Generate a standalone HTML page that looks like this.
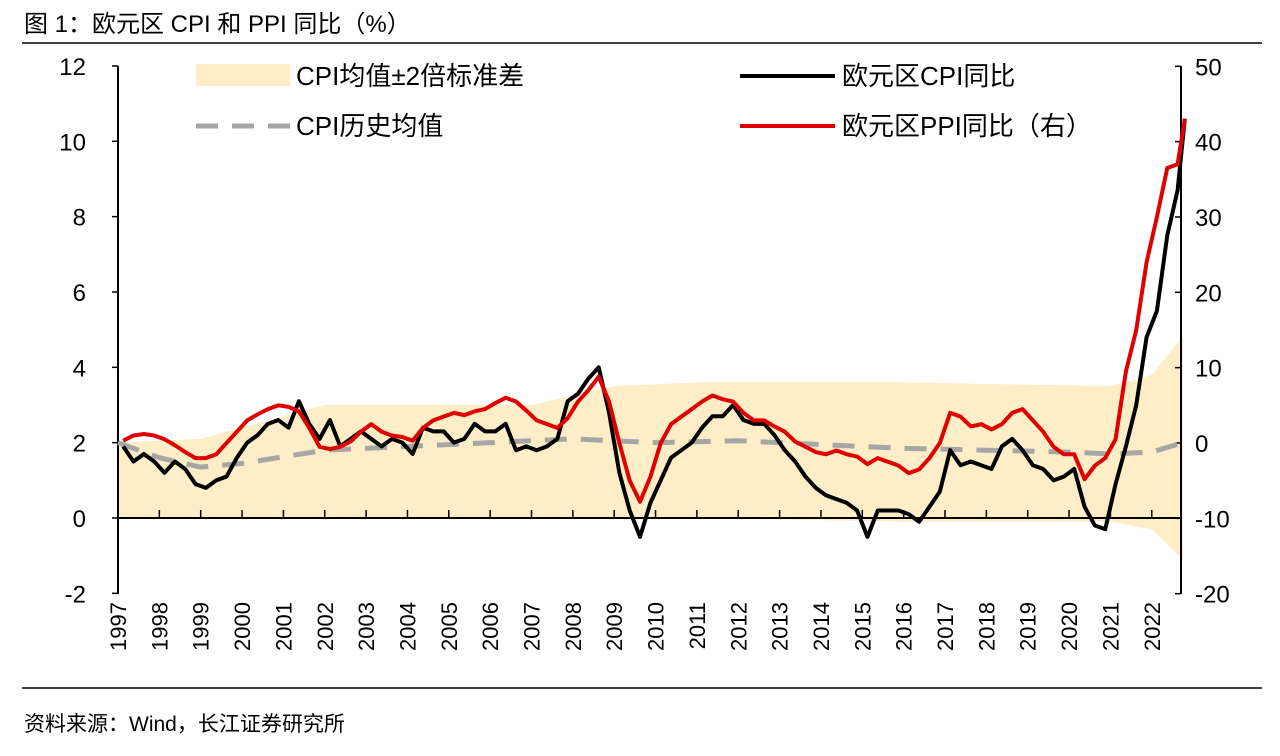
<!DOCTYPE html>
<html><head><meta charset="utf-8"><style>
body{margin:0;background:#fff;}
svg text{font-family:"Liberation Sans","Noto Sans CJK SC",sans-serif;fill:#000;}
</style></head><body>
<svg id="c" width="1280" height="751" viewBox="0 0 1280 751">
<text x="24" y="32" font-size="24">图 1：欧元区 CPI 和 PPI 同比（%）</text>
<line x1="22" y1="43" x2="1262" y2="43" stroke="#000" stroke-width="1.5"/>
<line x1="22" y1="688" x2="1262" y2="688" stroke="#000" stroke-width="1.5"/>
<text x="24" y="731" font-size="21">资料来源：Wind，长江证券研究所</text>
<g id="plot"></g>
<g id="legend">
<rect x="196" y="64" width="94" height="22" fill="#fdeec8"/>
<text x="296" y="85" font-size="26">CPI均值±2倍标准差</text>
<line x1="196" y1="126" x2="290" y2="126" stroke="#a6a6a6" stroke-width="5" stroke-dasharray="22,14"/>
<text x="296" y="135" font-size="26">CPI历史均值</text>
<line x1="740" y1="76" x2="835" y2="76" stroke="#000" stroke-width="4"/>
<text x="842" y="85" font-size="26">欧元区CPI同比</text>
<line x1="740" y1="126" x2="835" y2="126" stroke="#e00000" stroke-width="4"/>
<text x="842" y="135" font-size="26">欧元区PPI同比（右）</text>
</g>
</svg>
<script>
const years=[1997,1998,1999,2000,2001,2002,2003,2004,2005,2006,2007,2008,2009,2010,2011,2012,2013,2014,2015,2016,2017,2018,2019,2020,2021,2022];
const leftTicks=[12,10,8,6,4,2,0,-2];
const rightTicks=[50,40,30,20,10,0,-10,-20];
const cpi=[1.9,1.5,1.7,1.5, 1.2,1.5,1.3,0.9, 0.8,1.0,1.1,1.6, 2.0,2.2,2.5,2.6, 2.4,3.1,2.5,2.1, 2.6,1.9,2.1,2.3, 2.1,1.9,2.1,2.0, 1.7,2.4,2.3,2.3, 2.0,2.1,2.5,2.3, 2.3,2.5,1.8,1.9, 1.8,1.9,2.1,3.1, 3.3,3.7,4.0,2.8, 1.2,0.2,-0.5,0.4, 1.0,1.6,1.8,2.0, 2.4,2.7,2.7,3.0, 2.6,2.5,2.5,2.2, 1.8,1.5,1.1,0.8, 0.6,0.5,0.4,0.2, -0.5,0.2,0.2,0.2, 0.1,-0.1,0.3,0.7, 1.8,1.4,1.5,1.4, 1.3,1.9,2.1,1.8, 1.4,1.3,1.0,1.1, 1.3,0.3,-0.2,-0.3, 0.9,1.9,3.0,4.8, 5.5,7.5,8.7,10.6];
const ppi=[0.3,1.0,1.2,1.0, 0.5,-0.3,-1.2,-2.0, -2.0,-1.5,0.0,1.5, 3.0,3.8,4.5,5.0, 4.8,4.2,2.0,-0.5, -0.8,-0.5,0.2,1.5, 2.5,1.5,1.0,0.8, 0.3,2.0,3.0,3.5, 4.0,3.7,4.2,4.5, 5.3,6.0,5.5,4.3, 3.0,2.5,2.0,3.3, 5.5,7.0,8.8,5.5, 0.0,-5.0,-7.8,-4.5, 0.0,2.5,3.5,4.5, 5.5,6.3,5.8,5.5, 4.0,3.0,3.0,2.2, 1.5,0.2,-0.5,-1.2, -1.5,-1.0,-1.5,-1.8, -2.8,-2.0,-2.5,-3.0, -4.0,-3.5,-2.0,0.0, 4.0,3.5,2.2,2.5, 1.8,2.5,4.0,4.5, 3.0,1.5,-0.5,-1.5, -1.5,-4.8,-3.0,-2.0, 0.5,9.5,15.0,24.0, 30.0,36.5,37.0,43.0];
const meanT=[1997,1998,1999,2000,2002,2004,2006,2008,2009,2010,2012,2014,2016,2018,2020,2021,2022,2022.75];
const meanV=[2.0,1.6,1.35,1.45,1.8,1.9,2.0,2.1,2.05,2.0,2.05,1.95,1.85,1.8,1.75,1.7,1.75,2.0];
const bandT=[1997,1999,2002,2007,2009,2011,2016,2021,2022,2022.75];
const bandHi=[2.0,2.1,3.0,3.0,3.5,3.6,3.6,3.5,3.8,4.8];
const bandLo=[0.0,0.0,0.0,0.0,0.0,0.0,-0.1,-0.1,-0.3,-1.1];

const X0=118,XW=41.35,Y0=518,YU=37.67;
const xs=t=>X0+(t-1997)*XW;
const yl=v=>Y0-v*YU;
const yr=v=>443-v*7.534;
const NS='http://www.w3.org/2000/svg';
const g=document.getElementById('plot');
function mk(tag,attrs,parent){const e=document.createElementNS(NS,tag);for(const k in attrs)e.setAttribute(k,attrs[k]);(parent||g).appendChild(e);return e;}
const qt=i=>1997+i/4+0.125;

let bp=bandT.map((t,i)=>xs(t)+','+yl(bandHi[i])).join(' ')+' '+bandT.slice().reverse().map((t,j)=>{const i=bandT.length-1-j;return xs(t)+','+yl(bandLo[i]);}).join(' ');
const band=mk('polygon',{points:bp,fill:'#fdeec8'});



const xa=mk('line',{x1:X0,y1:Y0,x2:1181,y2:Y0,stroke:'#000','stroke-width':2});


years.forEach((y,i)=>{
  const tk=mk('line',{x1:xs(y),y1:Y0,x2:xs(y),y2:Y0-8,stroke:'#000','stroke-width':1.5});
  
  
  const tx=mk('text',{x:0,y:0,'font-size':22,'text-anchor':'end',transform:`translate(${xs(y)+8},602) rotate(-90)`});
  tx.textContent=y;
  
  
});
const la=mk('line',{x1:X0,y1:66,x2:X0,y2:594,stroke:'#000','stroke-width':2});


leftTicks.forEach(v=>{
  const tk=mk('line',{x1:X0-6,y1:yl(v),x2:X0,y2:yl(v),stroke:'#000','stroke-width':1.5});
  
  
  const tx=mk('text',{x:86,y:yl(v)+9,'font-size':24,'text-anchor':'end'});
  tx.textContent=v;
  
  
});
const ra=mk('line',{x1:1181,y1:66,x2:1181,y2:594,stroke:'#000','stroke-width':2});


rightTicks.forEach(v=>{
  const tk=mk('line',{x1:1175,y1:yr(v),x2:1181,y2:yr(v),stroke:'#000','stroke-width':1.5});
  
  
  const tx=mk('text',{x:1195,y:yr(v)+9,'font-size':24});
  tx.textContent=v;
  
  
});

const mp=mk('polyline',{points:meanT.map((t,i)=>xs(t)+','+yl(meanV[i])).join(' '),fill:'none',stroke:'#a6a6a6','stroke-width':5,'stroke-dasharray':'22,14'});


const cp=mk('polyline',{points:cpi.map((v,i)=>xs(Math.min(qt(i),2022.8))+','+yl(v)).join(' '),fill:'none',stroke:'#000','stroke-width':4,'stroke-linejoin':'round'});


const pp=mk('polyline',{points:ppi.map((v,i)=>xs(Math.min(qt(i),2022.8))+','+yr(v)).join(' '),fill:'none',stroke:'#e00000','stroke-width':4,'stroke-linejoin':'round'});


</script>
</body></html>
